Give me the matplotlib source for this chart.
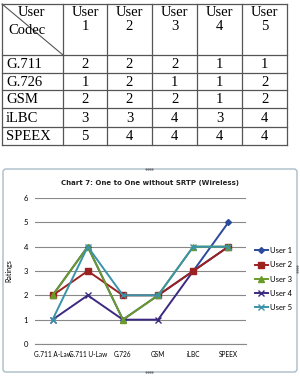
import matplotlib
matplotlib.use("Agg")
import matplotlib.pyplot as plt
from matplotlib.patches import FancyBboxPatch

# ---- table data ----
table_codecs = ["G.711", "G.726", "GSM", "iLBC", "SPEEX"]
table_users = ["User\n1", "User\n2", "User\n3", "User\n4", "User\n5"]
table_values = [
    [2, 2, 2, 1, 1],
    [1, 2, 1, 1, 2],
    [2, 2, 2, 1, 2],
    [3, 3, 4, 3, 4],
    [5, 4, 4, 4, 4],
]

# ---- chart data ----
chart_title = "Chart 7: One to One without SRTP (Wireless)"
categories = ["G.711 A-Law", "G.711 U-Law", "G.726", "GSM", "iLBC", "SPEEX"]
user1 = [2, 4, 1, 2, 3, 5]
user2 = [2, 3, 2, 2, 3, 4]
user3 = [2, 4, 1, 2, 4, 4]
user4 = [1, 2, 1, 1, 3, 4]
user5 = [1, 4, 2, 2, 4, 4]
series_names = ["User 1", "User 2", "User 3", "User 4", "User 5"]
y_ticks = [0, 1, 2, 3, 4, 5, 6]

W, H = 300, 376
fig = plt.figure(figsize=(W / 100, H / 100), dpi=100)
fig.patch.set_facecolor("white")

# ---------- table (pixel coordinates) ----------
tax = fig.add_axes([0, 0, 1, 1])
tax.set_xlim(0, W)
tax.set_ylim(H, 0)
tax.axis("off")

col_x = [2, 63, 107, 152, 197, 242, 287]
row_y = [4, 55, 73, 90, 108, 127, 145]
lc = "#555555"
for x in col_x:
    tax.plot([x, x], [row_y[0], row_y[-1]], color=lc, lw=0.9)
for y in row_y:
    tax.plot([col_x[0], col_x[-1]], [y, y], color=lc, lw=0.9)
# header diagonal
tax.plot([col_x[0], col_x[1]], [row_y[0], row_y[1]], color=lc, lw=0.8)

serif = "Liberation Serif"
fs = 10.5
tax.text(18, 6, "User", family=serif, fontsize=fs, va="top", ha="left")
tax.text(8, 24, "Codec", family=serif, fontsize=fs, va="top", ha="left")
for j, lab in enumerate(table_users):
    cx = (col_x[j + 1] + col_x[j + 2]) / 2
    tax.text(cx, 6, lab, family=serif, fontsize=fs, va="top", ha="center",
             linespacing=1.05)
for i, codec in enumerate(table_codecs):
    cy = (row_y[i + 1] + row_y[i + 2]) / 2 + 0.5
    tax.text(col_x[0] + 4, cy, codec, family=serif, fontsize=fs, va="center", ha="left")
    for j, v in enumerate(table_values[i]):
        cx = (col_x[j + 1] + col_x[j + 2]) / 2
        tax.text(cx, cy, str(v), family=serif, fontsize=fs, va="center", ha="center")

# chart frame
frame = FancyBboxPatch((3, 169), 294, 203, boxstyle="round,pad=0,rounding_size=3",
                       facecolor="white", edgecolor="#a9bcc8", lw=1.0)
tax.add_patch(frame)
# small handle dots on the frame
for hx, hy in [(146, 169), (148, 169), (150, 169), (152, 169),
               (146, 372), (148, 372), (150, 372), (152, 372)]:
    tax.plot(hx, hy, marker="s", ms=0.6, color="#777777", lw=0)
for hy in [266, 268, 270, 272]:
    tax.plot(297, hy, marker="s", ms=0.6, color="#777777", lw=0)
tax.text(150, 183, chart_title, fontsize=5, fontweight="bold", ha="center",
         va="center", color="#222222")

# ---------- chart ----------
left, right, top, bottom = 35, 246, 198, 344
ax = fig.add_axes([left / W, 1 - bottom / H, (right - left) / W, (bottom - top) / H])
ax.set_facecolor("none")

colors = ["#2b4a9c", "#9c2222", "#6b9a2a", "#3b2a80", "#3a93a8"]
markers = ["D", "s", "^", "x", "x"]
msizes = [3, 4, 4, 4.5, 4.5]
series = [user1, user2, user3, user4, user5]
xs = list(range(len(categories)))
order = [0, 3, 1, 2, 4]
handles = {}
for k in order:
    h, = ax.plot(xs, series[k], color=colors[k], lw=1.4, marker=markers[k],
                 ms=msizes[k], mew=1.0, label=series_names[k], zorder=3)
    handles[k] = h

tick_font = "Lato"
ax.set_xlim(-0.5, len(categories) - 0.5)
ax.set_ylim(0, 6)
ax.set_yticks(y_ticks)
ax.set_yticklabels([str(t) for t in y_ticks], fontsize=5.5, family=tick_font)
ax.set_xticks(xs)
ax.set_xticklabels(categories, fontsize=4.7, family=tick_font)
ax.tick_params(length=0, pad=5)
ax.yaxis.grid(True, color="#888888", lw=0.8)
ax.set_axisbelow(True)
for s in ["top", "right", "left"]:
    ax.spines[s].set_visible(False)
ax.spines["bottom"].set_color("#888888")
ax.set_ylabel("Ratings", fontsize=5, labelpad=8, family=tick_font)

leg = ax.legend([handles[k] for k in range(5)], series_names,
                prop={"family": tick_font, "size": 5.5},
                loc="center left",
                bbox_to_anchor=((255 - left) / (right - left), (bottom - 279) / (bottom - top)),
                borderaxespad=0, borderpad=0, frameon=False,
                handlelength=1.7, labelspacing=0.95, handletextpad=0.3)

fig.savefig("out.png", dpi=100)
